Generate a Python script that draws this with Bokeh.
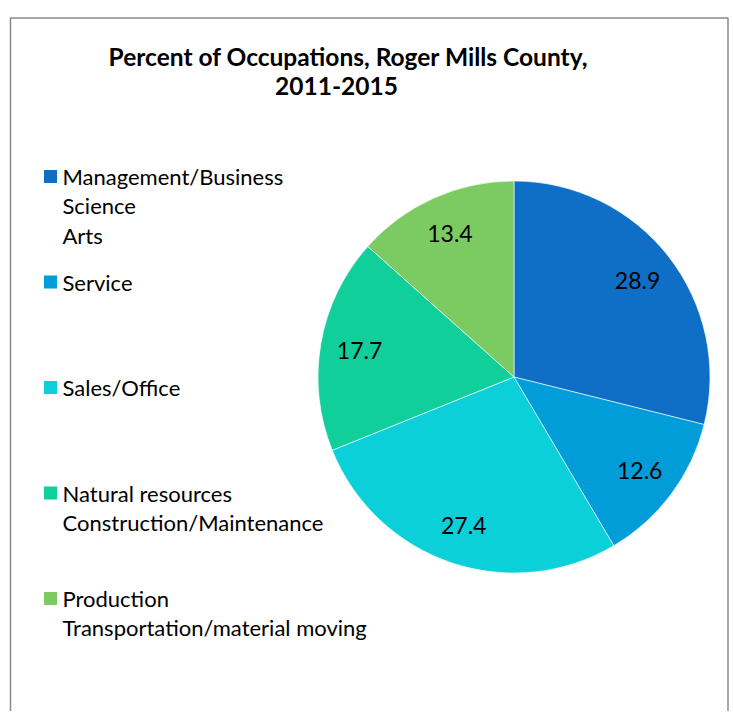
import math
from bokeh.plotting import figure
from bokeh.models import Range1d
from bokeh.core.properties import value
from bokeh.embed import file_html
from bokeh.resources import INLINE

# ---- data ----
title_lines = ["Percent of Occupations, Roger Mills County,", "2011-2015"]
categories = [
    ["Management/Business", "Science", "Arts"],
    ["Service"],
    ["Sales/Office"],
    ["Natural resources", "Construction/Maintenance"],
    ["Production", "Transportation/material moving"],
]
percent = [28.9, 12.6, 27.4, 17.7, 13.4]
colors = ["#0F6FC6", "#009DD9", "#0BD0D9", "#10CF9B", "#7CCA62"]
labels = ["28.9", "12.6", "27.4", "17.7", "13.4"]

W, H = 730, 711
FONT = "Lato"


def sy(y):
    # page pixel y -> data y
    return H - y


p = figure(width=W, height=H, output_backend="svg", toolbar_location=None,
           x_range=Range1d(0, W), y_range=Range1d(0, H),
           min_border=0, outline_line_color=None)
p.axis.visible = False
p.grid.visible = False
p.background_fill_color = "white"
p.border_fill_color = "white"

# chart frame
p.quad(left=10, right=727.5, top=sy(17.5), bottom=sy(740),
       fill_color=None, line_color="#8a8a8a", line_width=1.5)

# title
p.text(x=[348], y=[sy(56)], text=[title_lines[0]], text_align="center",
       text_baseline="middle", text_font=value(FONT), text_font_style="bold",
       text_font_size="24.5px", text_color="black")
p.text(x=[336], y=[sy(85)], text=[title_lines[1]], text_align="center",
       text_baseline="middle", text_font=value(FONT), text_font_style="bold",
       text_font_size="24.5px", text_color="black")

# pie
cx, cy, R = 513.5, sy(376.5), 196
total = sum(percent)
starts, ends, mids = [], [], []
acc = 0.0
for v in percent:
    a0 = math.pi / 2 - acc / total * 2 * math.pi
    acc += v
    a1 = math.pi / 2 - acc / total * 2 * math.pi
    starts.append(a0)
    ends.append(a1)
    mids.append((a0 + a1) / 2)

p.wedge(x=cx, y=cy, radius=R, start_angle=starts, end_angle=ends,
        direction="clock", fill_color=colors, line_color="white", line_width=0.6)

lr = 0.80 * R
p.text(x=[cx + lr * math.cos(m) for m in mids],
       y=[cy + lr * math.sin(m) for m in mids],
       text=labels, text_align="center", text_baseline="middle",
       text_font=value(FONT), text_font_size="23px", text_color="black")

# legend
lx_box, lx_text = 50, 62
first_mid, step, line_gap = 176, 105.5, 29.3
bx, by, bc = [], [], []
tx, ty, tt = [], [], []
for i, lines in enumerate(categories):
    mid = first_mid + i * step
    bx.append(lx_box)
    by.append(sy(mid))
    bc.append(colors[i])
    for j, line in enumerate(lines):
        tx.append(lx_text)
        ty.append(sy(mid + j * line_gap))
        tt.append(line)

p.rect(x=bx, y=by, width=13, height=13, fill_color=bc, line_color=None)
p.text(x=tx, y=ty, text=tt, text_align="left", text_baseline="middle",
       text_font=value(FONT), text_font_size="22px", text_color="black")

open("out.html", "w").write(file_html(p, INLINE))
